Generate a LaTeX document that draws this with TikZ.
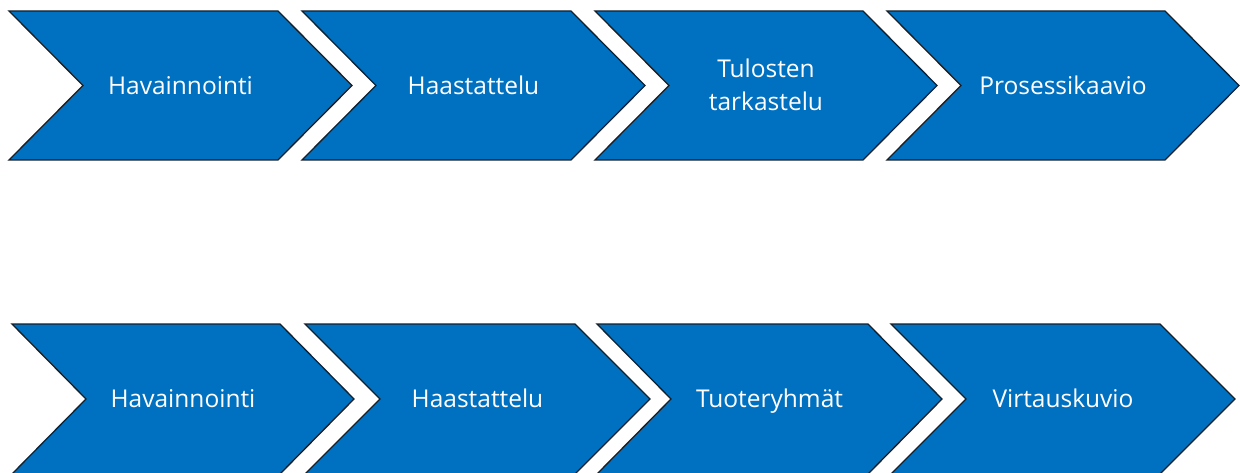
\documentclass[tikz,border=0pt]{standalone}
\usepackage{fontspec}
\setmainfont{Open Sans}
\definecolor{chevfill}{HTML}{0070C0}
\definecolor{chevline}{HTML}{15202B}
\tikzset{
  chev/.style={fill=chevfill, draw=chevline, line width=1.3pt, line join=miter},
  lab/.style={text=white, font=\fontsize{24.5}{33}\selectfont, align=center,
    inner sep=0pt, text height=17.5pt, text depth=0pt}
}
% [#1 label options] #2 name, #3 left edge, #4 right corner, #5 top, #6 bottom,
% #7 point depth, #8 label
\newcommand{\chevbox}[8][]{%
  \pgfmathsetmacro\chevmid{(#5+#6)/2}
  \draw[chev] (#3,#5) -- (#4,#5) -- (#4+#7,\chevmid) -- (#4,#6) -- (#3,#6)
     -- (#3+#7,\chevmid) -- cycle;
  \node[lab,#1] (#2) at ({(#3+#4+#7)/2},\chevmid) {#8};
}
\begin{document}
\begin{tikzpicture}[x=1pt,y=-1pt]
  \useasboundingbox[fill=white] (0,0) rectangle (1240,473);
  % upper process
  \chevbox{a1}{9}{278}{11}{160}{74}{Havainnointi}
  \chevbox{a2}{302}{571}{11}{160}{74}{Haastattelu}
  \chevbox[yshift=-16.5pt]{a3}{595}{863}{11}{160}{74}{Tulosten\\tarkastelu}
  \chevbox{a4}{887}{1165}{11}{160}{74}{Prosessikaavio}
  % lower process
  \chevbox{b1}{12}{280}{324}{474}{74}{Havainnointi}
  \chevbox{b2}{305}{575}{324}{474}{75}{Haastattelu}
  \chevbox{b3}{597}{868}{324}{474}{74}{Tuoteryhmät}
  \chevbox{b4}{891}{1160}{324}{474}{75}{Virtauskuvio}
\end{tikzpicture}
\end{document}
